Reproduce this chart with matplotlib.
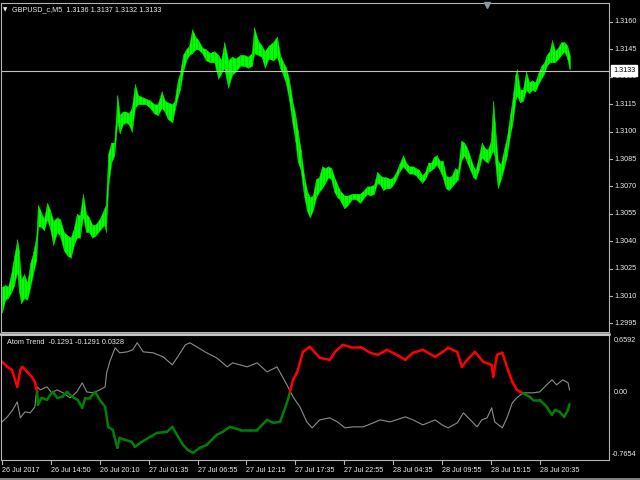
import matplotlib
matplotlib.use("Agg")
import matplotlib.pyplot as plt
from matplotlib.collections import LineCollection
from matplotlib.lines import Line2D
import numpy as np

# ---------------- data ----------------
# price pane (GBPUSD M5), sampled bars: bar index, high, low
bar_idx = [0, 4, 8, 12, 16, 20, 22, 25, 29, 33, 37, 41, 45, 47, 51, 55, 59, 63, 67, 72,
           76, 81, 86, 90, 94, 98, 102, 106, 110, 114, 118, 122, 126, 130, 134, 136, 139, 143, 147, 151,
           154, 158, 162, 166, 170, 174, 178, 183, 188, 194, 199, 204, 209, 213, 217, 223, 226, 230, 233, 237,
           241, 245, 249, 253, 257, 262, 267, 272, 278, 283, 287, 291, 296, 301, 306, 312, 317, 322, 327, 330,
           335, 340, 344, 349, 355, 360, 364, 368, 372, 376, 380, 384, 387, 391, 395, 399, 403, 407, 411, 415,
           419, 423, 427, 431, 435, 439, 442, 448, 453, 458, 463, 469, 474, 478, 482, 487, 491, 495, 499, 503,
           508, 512, 516, 520, 525, 529, 533, 538, 542, 546, 550, 554, 558, 562, 565, 569, 573, 577, 581, 585,
           589, 593, 597, 601, 605, 609, 613, 617, 620, 624, 628, 632, 636, 640, 643, 645, 649, 653, 657, 661,
           665, 668, 672, 674, 678, 682, 686, 690, 694, 698, 702, 706, 710, 713, 717, 720, 724, 728, 732, 736,
           740, 743]
price_high = [1.3015, 1.3016, 1.3015, 1.3022, 1.3032, 1.3041, 1.3035, 1.3019, 1.3022, 1.3017,
              1.3028, 1.3034, 1.3043, 1.3060, 1.3056, 1.3052, 1.3061, 1.3057, 1.3051, 1.3053,
              1.3052, 1.3045, 1.3043, 1.3042, 1.3047, 1.3055, 1.3054, 1.3066, 1.3055, 1.3053,
              1.3049, 1.3049, 1.3051, 1.3054, 1.3058, 1.3060, 1.3088, 1.3094, 1.3094, 1.3120,
              1.3109, 1.3111, 1.3111, 1.3110, 1.3113, 1.3126, 1.3120, 1.3119, 1.3118, 1.3117,
              1.3115, 1.3115, 1.3122, 1.3117, 1.3116, 1.3115, 1.3117, 1.3128, 1.3132, 1.3142,
              1.3145, 1.3147, 1.3156, 1.3152, 1.3150, 1.3146, 1.3145, 1.3143, 1.3144, 1.3142,
              1.3139, 1.3149, 1.3139, 1.3141, 1.3140, 1.3142, 1.3142, 1.3141, 1.3143, 1.3157,
              1.3150, 1.3147, 1.3144, 1.3147, 1.3149, 1.3152, 1.3142, 1.3138, 1.3135, 1.3128,
              1.3117, 1.3109, 1.3101, 1.3090, 1.3077, 1.3068, 1.3064, 1.3065, 1.3074, 1.3075,
              1.3081, 1.3080, 1.3081, 1.3080, 1.3075, 1.3071, 1.3068, 1.3065, 1.3065, 1.3066,
              1.3066, 1.3066, 1.3068, 1.3070, 1.3070, 1.3071, 1.3078, 1.3076, 1.3075, 1.3075,
              1.3074, 1.3075, 1.3078, 1.3082, 1.3087, 1.3083, 1.3081, 1.3081, 1.3080, 1.3079,
              1.3076, 1.3078, 1.3083, 1.3083, 1.3086, 1.3087, 1.3084, 1.3084, 1.3076, 1.3075,
              1.3076, 1.3080, 1.3079, 1.3095, 1.3094, 1.3091, 1.3086, 1.3081, 1.3079, 1.3086,
              1.3094, 1.3091, 1.3090, 1.3095, 1.3117, 1.3105, 1.3084, 1.3082, 1.3090, 1.3097,
              1.3109, 1.3117, 1.3131, 1.3134, 1.3123, 1.3123, 1.3133, 1.3127, 1.3128, 1.3127,
              1.3132, 1.3136, 1.3138, 1.3142, 1.3144, 1.3150, 1.3144, 1.3146, 1.3149, 1.3149,
              1.3147, 1.3142]
price_low = [1.3001, 1.3008, 1.3009, 1.3012, 1.3016, 1.3024, 1.3013, 1.3006, 1.3009, 1.3008,
             1.3015, 1.3023, 1.3030, 1.3048, 1.3048, 1.3046, 1.3052, 1.3047, 1.3038, 1.3045,
             1.3043, 1.3035, 1.3032, 1.3031, 1.3038, 1.3042, 1.3042, 1.3054, 1.3045, 1.3045,
             1.3042, 1.3043, 1.3045, 1.3047, 1.3049, 1.3045, 1.3070, 1.3083, 1.3087, 1.3106,
             1.3099, 1.3104, 1.3105, 1.3104, 1.3100, 1.3113, 1.3115, 1.3115, 1.3115, 1.3113,
             1.3110, 1.3109, 1.3113, 1.3111, 1.3107, 1.3105, 1.3112, 1.3119, 1.3123, 1.3133,
             1.3139, 1.3142, 1.3143, 1.3145, 1.3145, 1.3143, 1.3139, 1.3138, 1.3138, 1.3129,
             1.3132, 1.3135, 1.3124, 1.3131, 1.3133, 1.3136, 1.3136, 1.3135, 1.3136, 1.3143,
             1.3142, 1.3141, 1.3135, 1.3140, 1.3139, 1.3141, 1.3135, 1.3131, 1.3126, 1.3117,
             1.3105, 1.3095, 1.3084, 1.3079, 1.3066, 1.3057, 1.3053, 1.3057, 1.3064, 1.3067,
             1.3069, 1.3072, 1.3075, 1.3074, 1.3067, 1.3064, 1.3063, 1.3058, 1.3060, 1.3063,
             1.3063, 1.3061, 1.3064, 1.3066, 1.3065, 1.3066, 1.3072, 1.3071, 1.3068, 1.3069,
             1.3069, 1.3071, 1.3074, 1.3078, 1.3081, 1.3079, 1.3077, 1.3077, 1.3076, 1.3074,
             1.3072, 1.3074, 1.3078, 1.3079, 1.3080, 1.3082, 1.3079, 1.3075, 1.3069, 1.3068,
             1.3070, 1.3072, 1.3074, 1.3084, 1.3087, 1.3083, 1.3079, 1.3075, 1.3074, 1.3079,
             1.3086, 1.3084, 1.3083, 1.3087, 1.3090, 1.3086, 1.3069, 1.3074, 1.3080, 1.3087,
             1.3098, 1.3104, 1.3117, 1.3120, 1.3116, 1.3117, 1.3123, 1.3121, 1.3123, 1.3122,
             1.3126, 1.3129, 1.3132, 1.3136, 1.3138, 1.3138, 1.3138, 1.3140, 1.3142, 1.3144,
             1.3140, 1.3134]
last_close = 1.3133
header_ohlc = ["1.3136", "1.3137", "1.3132", "1.3133"]

# Atom Trend indicator: main line (red/green) and signal (gray)
trend_bars = [0, 7, 13, 20, 24, 27, 33, 39, 43, 46, 47, 52, 59, 63, 67, 72, 79, 85, 92, 99,
              105, 109, 115, 122, 128, 135, 139, 145, 151, 154, 161, 170, 174, 181, 194, 203, 216, 223, 229, 237,
              243, 250, 259, 268, 281, 289, 298, 312, 325, 334, 347, 355, 364, 373, 377, 381, 386, 390, 394, 403,
              410, 416, 429, 436, 446, 456, 469, 482, 492, 504, 517, 528, 538, 551, 567, 577, 584, 596, 602, 609,
              619, 630, 641, 643, 648, 655, 661, 668, 674, 682, 691, 695, 704, 713, 720, 724, 730, 736, 741, 743]
trend_main = [0.353, 0.296, 0.262, 0.068, 0.262, 0.296, 0.239, 0.182, 0.125, 0.011,
              -0.137, -0.057, -0.080, -0.023, 0.011, -0.057, -0.046, 0.011, -0.046, -0.080,
              -0.171, -0.057, -0.057, 0.011, -0.080, -0.160, -0.388, -0.422, -0.627, -0.513,
              -0.536, -0.559, -0.616, -0.570, -0.502, -0.456, -0.445, -0.388, -0.479, -0.593,
              -0.650, -0.684, -0.627, -0.593, -0.479, -0.445, -0.388, -0.422, -0.422, -0.422,
              -0.308, -0.342, -0.331, -0.114, 0.011, 0.148, 0.228, 0.342, 0.467, 0.524,
              0.456, 0.399, 0.376, 0.467, 0.547, 0.524, 0.524, 0.456, 0.433, 0.490,
              0.433, 0.376, 0.456, 0.490, 0.410, 0.467, 0.513, 0.467, 0.296, 0.376,
              0.467, 0.353, 0.319, 0.182, 0.433, 0.456, 0.296, 0.125, 0.034, -0.005,
              -0.046, -0.080, -0.080, -0.160, -0.251, -0.194, -0.217, -0.274, -0.194, -0.1291]
signal_bars = [0, 7, 14, 20, 24, 30, 37, 43, 46, 50, 59, 65, 72, 80, 89, 98, 105, 111, 119, 128,
               135, 137, 141, 148, 154, 164, 171, 177, 185, 198, 211, 223, 230, 240, 246, 255, 268, 281, 295, 302,
               321, 334, 347, 360, 373, 381, 390, 399, 406, 416, 429, 439, 449, 459, 473, 486, 495, 508, 528, 538,
               551, 567, 576, 584, 596, 604, 613, 622, 628, 635, 641, 645, 655, 661, 668, 674, 682, 695, 704, 713,
               720, 726, 734, 741, 743]
trend_signal = [-0.331, -0.274, -0.194, -0.103, -0.285, -0.217, -0.228, -0.160, 0.068, 0.034,
                0.068, 0.000, 0.034, 0.000, -0.057, 0.011, 0.114, 0.011, 0.000, 0.034,
                0.068, 0.228, 0.353, 0.513, 0.456, 0.467, 0.490, 0.570, 0.467, 0.456,
                0.410, 0.319, 0.410, 0.547, 0.570, 0.524, 0.456, 0.399, 0.296, 0.342,
                0.296, 0.342, 0.239, 0.296, 0.091, -0.046, -0.160, -0.331, -0.399, -0.308,
                -0.285, -0.331, -0.399, -0.388, -0.388, -0.342, -0.308, -0.331, -0.274, -0.308,
                -0.365, -0.308, -0.365, -0.399, -0.342, -0.228, -0.308, -0.388, -0.308, -0.285,
                -0.171, -0.331, -0.399, -0.285, -0.114, -0.057, 0.000, 0.000, 0.011, 0.091,
                0.148, 0.091, 0.148, 0.114, 0.0328]
ind_max, ind_min = 0.6592, -0.7654

price_ticks = [1.3160, 1.3145, 1.3130, 1.3115, 1.3100, 1.3085, 1.3070, 1.3055, 1.3040, 1.3025, 1.3010, 1.2995]
time_tick_bars = [0, 64, 128, 192, 256, 320, 384, 448, 512, 576, 640, 704]
time_labels = ["26 Jul 2017", "26 Jul 14:50", "26 Jul 20:10", "27 Jul 01:35", "27 Jul 06:55",
               "27 Jul 12:15", "27 Jul 17:35", "27 Jul 22:55", "28 Jul 04:35", "28 Jul 09:55",
               "28 Jul 15:15", "28 Jul 20:35"]

# ---------------- drawing ----------------
W, H = 640, 480
fig = plt.figure(figsize=(6.4, 4.8), dpi=100, facecolor="black")
FONT = ["Liberation Sans", "DejaVu Sans"]
FS = 5.2
TXT = "#ececec"
FRAME = "#b4b4b4"

def fx(px):
    return px / W

def fy(py):
    return 1 - py / H

xl = (-1.3, 794.6)
ax1 = fig.add_axes([fx(1), fy(332), fx(608), 329 / H], facecolor="black")
ax2 = fig.add_axes([fx(1), fy(460), fx(608), 125 / H], facecolor="black")

# price pane
ax1.fill_between(bar_idx, price_low, price_high, color="#00ff00", lw=0.3, edgecolor="#00ff00")
ax1.vlines(bar_idx, price_low, price_high, color="#00c800", lw=0.5)
ax1.axhline(last_close, color="#c0c0c0", lw=0.8)
ax1.set_xlim(*xl)
ax1.set_ylim(1.29903, 1.31704)

# indicator pane
pts = np.column_stack([trend_bars, trend_main])
segs = np.stack([pts[:-1], pts[1:]], axis=1)
mid = (np.array(trend_main[:-1]) + np.array(trend_main[1:])) / 2
cols = ["#ff0000" if m > 0 else "#008000" for m in mid]
ax2.plot(signal_bars, trend_signal, color="#8c8c8c", lw=0.8)
ax2.add_collection(LineCollection(segs, colors=cols, linewidths=1.8, capstyle="round"))
ax2.set_xlim(*xl)
ax2.set_ylim(ind_min, ind_max)

for ax in (ax1, ax2):
    ax.set_xticks([])
    ax.set_yticks([])
    for s in ax.spines.values():
        s.set_color(FRAME)
        s.set_linewidth(0.8)

# separator between panes and bottom line
fig.add_artist(Line2D([0, fx(609)], [fy(333.5), fy(333.5)], color="#c8c8c8", lw=1.8))
fig.add_artist(Line2D([0, 1], [fy(478.5), fy(478.5)], color="#9a9a9a", lw=1.2))

# price axis labels
def price_to_py(p):
    y0, y1 = ax1.get_ylim()
    return 332 - (p - y0) / (y1 - y0) * 329

for p in price_ticks:
    py = price_to_py(p)
    fig.add_artist(Line2D([fx(609), fx(612)], [fy(py), fy(py)], color=FRAME, lw=0.8))
    fig.text(fx(614), fy(py), f"{p:.4f}", color=TXT, fontsize=FS, family=FONT,
             ha="left", va="center")
py = price_to_py(last_close)
fig.text(fx(613), fy(py - 0.5), f"{last_close:.4f}", color="black", fontsize=FS, family=FONT,
         ha="left", va="center",
         bbox=dict(boxstyle="square,pad=0.3", fc="white", ec="white"))

# indicator axis labels
def ind_to_py(v):
    return 460 - (v - ind_min) / (ind_max - ind_min) * 125

fig.text(fx(614), fy(340), f"{ind_max:.4f}", color=TXT, fontsize=FS, family=FONT, ha="left", va="center")
fig.text(fx(614), fy(ind_to_py(0.0)), "0.00", color=TXT, fontsize=FS, family=FONT, ha="left", va="center")
fig.text(fx(612), fy(455), f"{ind_min:.4f}", color=TXT, fontsize=FS, family=FONT, ha="left", va="center")

# time axis labels
for b, lab in zip(time_tick_bars, time_labels):
    px = 1 + (b - xl[0]) / (xl[1] - xl[0]) * 608
    fig.add_artist(Line2D([fx(px), fx(px)], [fy(460), fy(464)], color=FRAME, lw=0.8))
    fig.text(fx(px), fy(470), lab, color=TXT, fontsize=FS, family=FONT, ha="left", va="center")

# headers
fig.text(fx(3), fy(10), "\u25bc", color=TXT, fontsize=4, family="DejaVu Sans", ha="left", va="center")
fig.text(fx(12), fy(10), "GBPUSD_c,M5  " + " ".join(header_ohlc), color=TXT, fontsize=FS,
         family=FONT, ha="left", va="center")
fig.text(fx(7), fy(342), "Atom Trend  -0.1291 -0.1291 0.0328", color=TXT, fontsize=FS,
         family=FONT, ha="left", va="center")
# chart shift marker
fig.add_artist(Line2D([fx(486.5)], [fy(4.5)], marker="v", color="#8c96a0", markersize=4.5, lw=0))

fig.savefig("out.png", dpi=100, facecolor="black")
